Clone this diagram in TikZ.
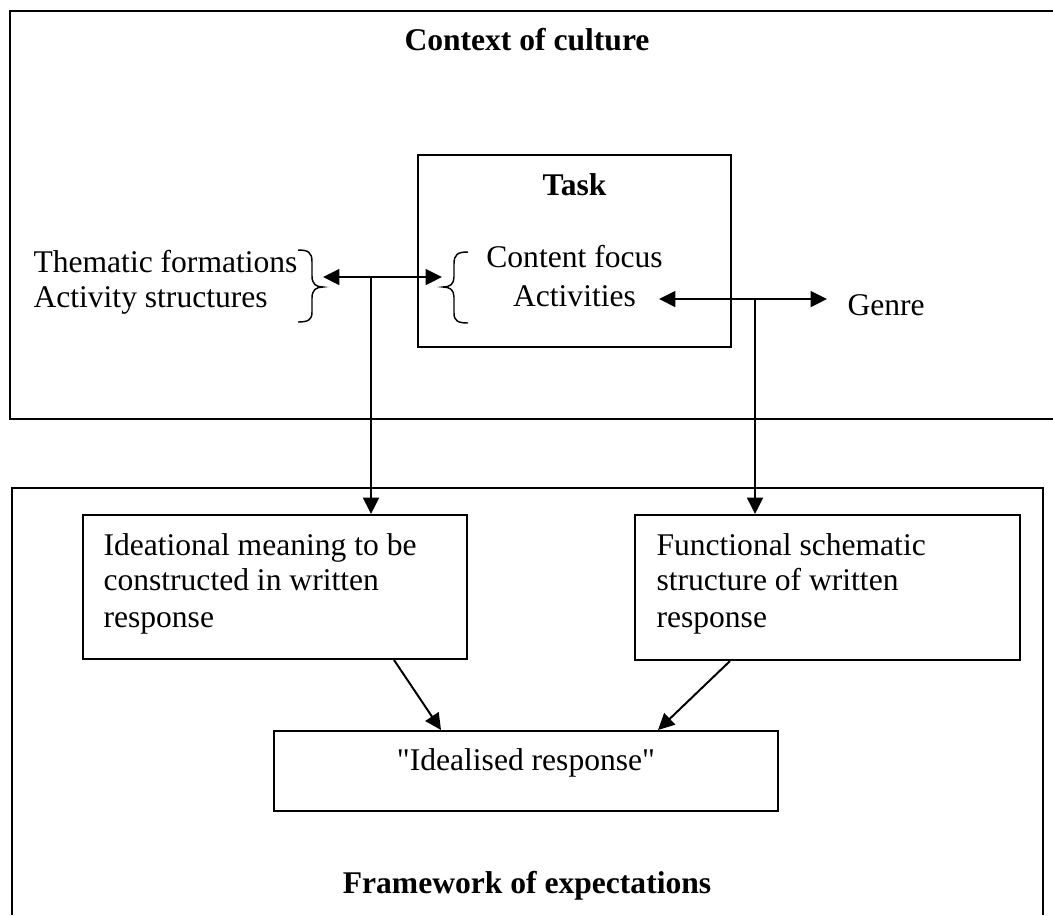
\documentclass[tikz,border=0pt]{standalone}
\usepackage{fontspec}
\setmainfont{Liberation Serif}
\usetikzlibrary{arrows.meta,calc,fit}
\begin{document}
\begin{tikzpicture}[x=0.38pt,y=-0.38pt,
  lw/.style={line width=0.75pt},
  frame/.style={draw,lw,inner sep=0pt},
  txt/.style={inner sep=0pt,anchor=base west,font=\fontsize{12}{14}\selectfont},
  ctxt/.style={inner sep=0pt,anchor=base,font=\fontsize{12}{14}\selectfont},
  title/.style={inner sep=0pt,anchor=base,font=\fontsize{12}{14}\selectfont\bfseries},
  tip/.tip={Triangle[length=6.2pt,width=6pt]},
  arr/.style={lw,-tip},
  darr/.style={lw,tip-tip},
  bracepath/.style={line width=0.55pt}]
\useasboundingbox (0,0) rectangle (1053,915);

% outer frames (open towards the page edges)
\draw[lw] (1053,11) -- (10,11) -- (10,419) -- (1053,419);
\draw[lw] (12,915) -- (12,488) -- (1043,488) -- (1043,915);

\node[title] (ctx) at (527,50) {Context of culture};
\node[title] (fwk) at (527,893) {Framework of expectations};

% task box
\node[frame, fit={(418,155) (731,347)}] (task) {};
\node[title] (tasklbl) at (574.5,195) {Task};
\node[ctxt] (cf) at (574.5,267) {Content focus};
\node[ctxt] (act) at (574.5,306) {Activities};

% left group
\node[txt] (tf) at (33,272) {Thematic formations};
\node[txt] (as) at (33,307) {Activity structures};
\node[txt] (genre) at (847,315) {Genre};

% braces
\draw[bracepath] (298,250) .. controls (308,250) and (312,252) .. (312,262)
  -- (312,276) .. controls (312,284) and (316,287) .. (323,287)
  .. controls (316,287) and (312,290) .. (312,298)
  -- (312,312) .. controls (312,320) and (308,322) .. (298,322);
\draw[bracepath] (468,252) .. controls (458,252) and (454,254) .. (454,264)
  -- (454,277) .. controls (454,284) and (450,287) .. (443,287)
  .. controls (450,287) and (454,290) .. (454,297)
  -- (454,313) .. controls (454,321) and (458,323) .. (468,323);

% lower boxes
\node[frame, fit={(83,515) (467,659)}] (ideal) {};
\node[txt] (i1) at (103,555) {Ideational meaning to be};
\node[txt] (i2) at (103,590) {constructed in written};
\node[txt] (i3) at (103,627) {response};

\node[frame, fit={(635,515) (1020,660)}] (func) {};
\node[txt] (f1) at (656,555) {Functional schematic};
\node[txt] (f2) at (656,590) {structure of written};
\node[txt] (f3) at (656,627) {response};

\node[frame, fit={(274,731) (778,811)}] (idr) {};
\node[ctxt, font=\fontsize{12}{14}\selectfont\addfontfeature{Ligatures=TeXOff}] (idrlbl) at (526,770) {"Idealised response"};

% connectors
\coordinate (lt) at (323,277);
\coordinate (rt) at (442,277);
\coordinate (jl) at (371,277);
\draw[darr] (lt) -- (rt);
\draw[arr] (jl) -- (jl |- ideal.north);

\coordinate (al) at (659,299);
\coordinate (ar) at (827,299);
\coordinate (jr) at (755,299);
\draw[darr] (al) -- (ar);
\draw[arr] (jr) -- (jr |- func.north);

\draw[arr] ($(ideal.south west)+(312,0)$) -- ($(idr.north west)+(168,0)$);
\draw[arr] ($(func.south west)+(96,0)$) -- ($(idr.north west)+(385,0)$);
\end{tikzpicture}
\end{document}
